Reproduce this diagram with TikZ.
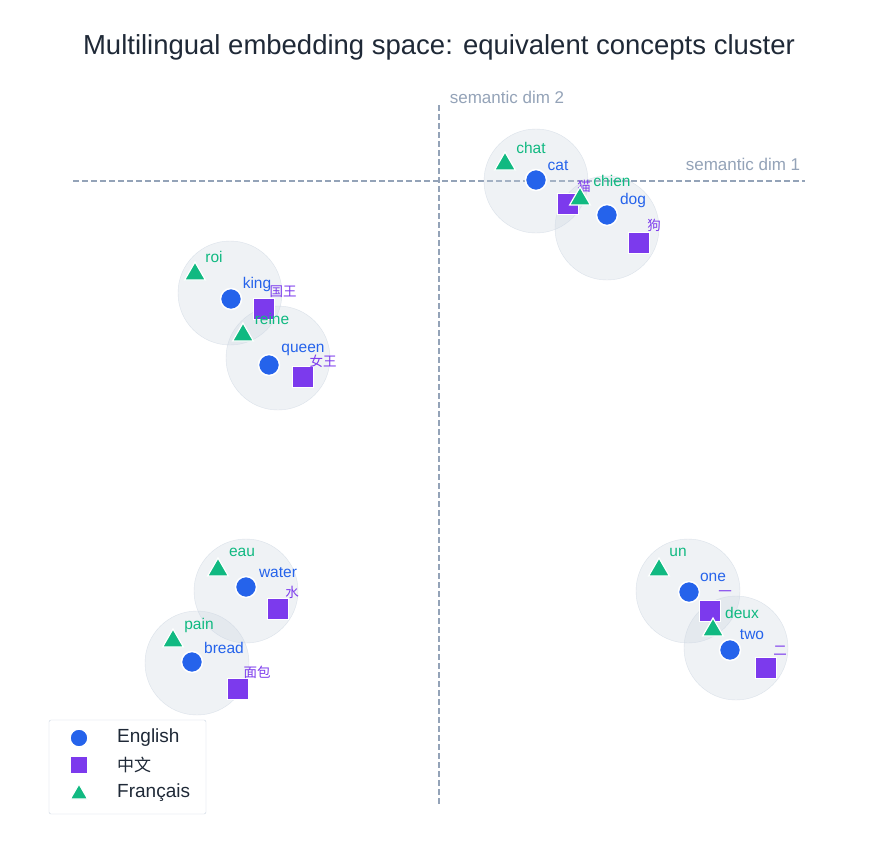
\documentclass[tikz,border=0pt]{standalone}
\usepackage{fontspec}
\setmainfont{Liberation Sans}
\newfontfamily\cjk{Noto Sans CJK SC}
\usetikzlibrary{shapes.geometric}
\definecolor{cblue}{HTML}{2563EB}
\definecolor{cpurp}{HTML}{7C3AED}
\definecolor{cgreen}{HTML}{10B981}
\definecolor{caxis}{HTML}{94A3B8}
\definecolor{ctitle}{HTML}{1F2937}
\definecolor{cclu}{HTML}{CBD5E1}
\begin{document}
\begin{tikzpicture}[x=1pt,y=-1pt,
 en/.style={circle,fill=cblue,draw=white,line width=1.5pt,minimum size=21pt,inner sep=0},
 zh/.style={rectangle,fill=cpurp,draw=white,line width=1.5pt,minimum size=21pt,inner sep=0},
 fr/.style={regular polygon,regular polygon sides=3,fill=cgreen,draw=white,line width=1.2pt,minimum size=24pt,inner sep=0},
 clu/.style={circle,fill=cclu,fill opacity=0.3,draw=cclu,draw opacity=0.6,minimum size=104pt,inner sep=0},
 len/.style={text=cblue,font=\fontsize{15.5}{15.5}\selectfont,inner sep=0},
 lzh/.style={text=cpurp,font=\cjk\fontsize{13.5}{13.5}\selectfont,inner sep=0},
 lfr/.style={text=cgreen,font=\fontsize{15.5}{15.5}\selectfont,inner sep=0},
 axis/.style={draw=caxis,dash pattern=on 6pt off 3pt,line width=1.2pt},
 axlab/.style={text=caxis,font=\fontsize{17}{17}\selectfont,inner sep=0}]
\useasboundingbox[fill=white] (0,0) rectangle (878,862);
\node[text=ctitle,font=\fontsize{27.5}{27.5}\selectfont] (title) at (439,47) {Multilingual embedding space: equivalent concepts cluster};
\coordinate (hx1) at (73,181); \coordinate (hx2) at (805,181);
\coordinate (vy1) at (439,105); \coordinate (vy2) at (439,805);
\draw[axis] (hx1) -- (hx2);
\draw[axis] (vy1) -- (vy2);
\node[axlab] (ax2) at (507,97) {semantic dim 2};
\node[axlab] (ax1) at (743,164) {semantic dim 1};
% clusters
\node[clu] (c1) at (536,181) {};
\node[clu] (c2) at (607,228) {};
\node[clu] (c3) at (230,293) {};
\node[clu] (c4) at (278,358) {};
\node[clu] (c5) at (246,591) {};
\node[clu] (c6) at (197,663) {};
\node[clu] (c7) at (688,591) {};
\node[clu] (c8) at (736,648) {};
% cat
\node[fr] (m1) at (505,164) {}; \node[lfr] (l1) at (531,148) {chat};
\node[zh] (m2) at (568,204) {}; \node[lzh] (l2) at (584,186) {猫};
\node[en] (m3) at (536,180) {}; \node[len] (l3) at (558,166) {cat};
\node[fr] (m4) at (580,199) {}; \node[lfr] (l4) at (612,181) {chien};
\node[zh] (m5) at (639,243) {}; \node[lzh] (l5) at (654,225) {狗};
\node[en] (m6) at (607,215) {}; \node[len] (l6) at (633,200) {dog};
% king
\node[fr] (m7) at (195,274) {}; \node[lfr] (l7) at (214,257) {roi};
\node[zh] (m8) at (264,309) {}; \node[lzh] (l8) at (283,292) {国王};
\node[en] (m9) at (231,299) {}; \node[len] (l9) at (257,284) {king};
\node[fr] (m10) at (243,335) {}; \node[lfr] (l10) at (272,319) {reine};
\node[zh] (m11) at (303,377) {}; \node[lzh] (l11) at (323,361) {女王};
\node[en] (m12) at (269,365) {}; \node[len] (l12) at (303,350) {queen};
% water
\node[fr] (m13) at (218,570) {}; \node[lfr] (l13) at (242,552) {eau};
\node[zh] (m14) at (278,609) {}; \node[lzh] (l14) at (292,592) {水};
\node[en] (m15) at (246,587) {}; \node[len] (l15) at (278,573) {water};
\node[fr] (m16) at (173,641) {}; \node[lfr] (l16) at (199,625) {pain};
\node[zh] (m17) at (238,689) {}; \node[lzh] (l17) at (257,672) {面包};
\node[en] (m18) at (192,662) {}; \node[len] (l18) at (224,648) {bread};
% numbers
\node[fr] (m19) at (659,570) {}; \node[lfr] (l19) at (678,552) {un};
\node[zh] (m20) at (710,611) {}; \node[lzh] (l20) at (725,594) {一};
\node[en] (m21) at (689,592) {}; \node[len] (l21) at (713,577) {one};
\node[fr] (m22) at (713,630) {}; \node[lfr] (l22) at (742,613) {deux};
\node[zh] (m23) at (766,668) {}; \node[lzh] (l23) at (780,651) {二};
\node[en] (m24) at (730,650) {}; \node[len] (l24) at (752,635) {two};
% legend
\node[draw=cclu,fill=white,rounded corners=2pt,minimum width=157pt,minimum height=94pt,inner sep=0] (leg) at (127.5,767) {};
\node[en,minimum size=18pt] (g1) at (79,738) {};
\node[zh,minimum size=18pt] (g2) at (79,765) {};
\node[fr,minimum size=20pt] (g3) at (79,794) {};
\node[anchor=west,font=\fontsize{19}{19}\selectfont,text=ctitle,inner sep=0] (t1) at (117,738) {English};
\node[anchor=west,font=\cjk\fontsize{17}{17}\selectfont,text=ctitle,inner sep=0] (t2) at (117,765) {中文};
\node[anchor=west,font=\fontsize{19}{19}\selectfont,text=ctitle,inner sep=0] (t3) at (117,793) {Français};
\end{tikzpicture}
\end{document}
